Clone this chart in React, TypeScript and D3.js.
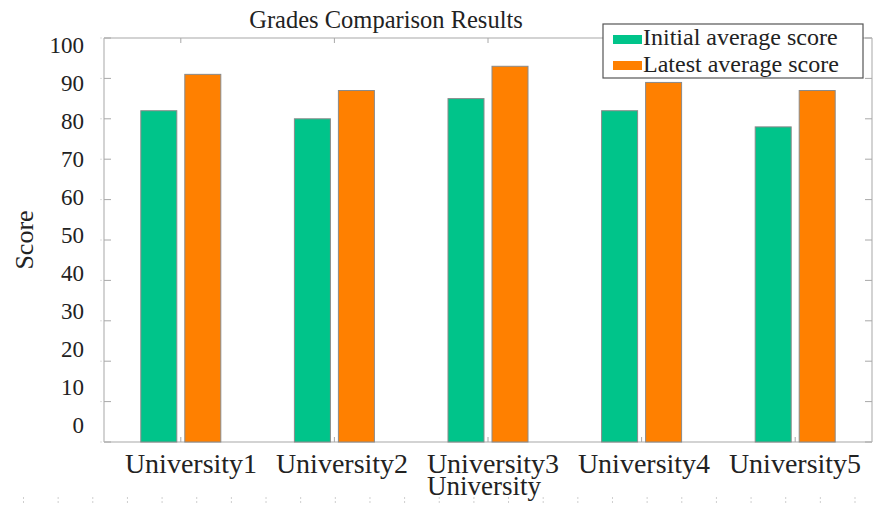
import React from "react";
import * as d3 from "d3";

const categories = ["University1", "University2", "University3", "University4", "University5"];
const initialScores = [82, 80, 85, 82, 78];
const latestScores = [91, 87, 93, 89, 87];
const seriesNames = ["Initial average score", "Latest average score"];
const seriesColors = ["#00C48A", "#FF8000"];
const yTicks = [0, 10, 20, 30, 40, 50, 60, 70, 80, 90, 100];
const bottomMarkCount = 25;

const W = 880;
const H = 505;
const plot = { left: 104, right: 872, top: 38, bottom: 442 };
const FONT = "'Liberation Serif', 'Times New Roman', serif";

export default function App() {
  const x = d3.scaleBand<string>().domain(categories).range([plot.left, plot.right]).paddingInner(0).paddingOuter(0);
  const y = d3.scaleLinear().domain([0, 100]).range([plot.bottom, plot.top]);
  // label placement scales (labels in the reference are slightly offset from the ticks)
  const yLabel = d3.scaleLinear().domain([0, 100]).range([425, 45]);
  const xLabel = d3.scaleLinear().domain([0, categories.length - 1]).range([191, 795]);
  const marks = d3.scaleLinear().domain([0, bottomMarkCount - 1]).range([23.5, 855]);

  const barW = 36;
  const gap = 8;
  const series = [initialScores, latestScores];
  const axisColor = "#c4c4c4";
  const tickColor = "#a8a8a8";

  return (
    <svg width={W} height={H} style={{ position: "absolute", left: 0, top: 0, background: "#fff" }}>
      <rect x={0} y={0} width={W} height={H} fill="#fff" />
      {/* frame */}
      <line x1={plot.left} x2={plot.right} y1={plot.top} y2={plot.top} stroke={axisColor} strokeWidth={1.5} />
      <line x1={plot.left} x2={plot.right} y1={plot.bottom} y2={plot.bottom} stroke={axisColor} strokeWidth={1.5} />
      <line x1={plot.left} x2={plot.left} y1={plot.top} y2={plot.bottom} stroke={axisColor} strokeWidth={1.5} />
      <line x1={plot.right} x2={plot.right} y1={plot.top} y2={plot.bottom} stroke={axisColor} strokeWidth={1.5} />

      {/* y ticks */}
      {yTicks.map((t) => (
        <g key={"yt" + t}>
          <line x1={plot.left} x2={plot.left + 7} y1={y(t)} y2={y(t)} stroke={tickColor} strokeWidth={1} />
          <line x1={plot.left - 4} x2={plot.left - 2} y1={y(t)} y2={y(t)} stroke="#ddd" strokeWidth={1} />
          <line x1={plot.right - 7} x2={plot.right} y1={y(t)} y2={y(t)} stroke={tickColor} strokeWidth={1} />
          <text x={84} y={yLabel(t)} dy="0.34em" textAnchor="end" fontFamily={FONT} fontSize={23} fill="#222">
            {t}
          </text>
        </g>
      ))}

      {/* x ticks */}
      {categories.map((c) => {
        const cx = (x(c) as number) + x.bandwidth() / 2;
        return (
          <g key={"xt" + c}>
            <line x1={cx} x2={cx} y1={plot.bottom} y2={plot.bottom - 5} stroke={tickColor} strokeWidth={1} />
            <line x1={cx} x2={cx} y1={plot.top} y2={plot.top + 5} stroke={tickColor} strokeWidth={1} />
          </g>
        );
      })}

      {/* bars */}
      {categories.map((c, i) => {
        const cx = (x(c) as number) + x.bandwidth() / 2;
        return series.map((s, si) => {
          const bx = si === 0 ? cx - gap / 2 - barW : cx + gap / 2;
          return (
            <rect
              key={c + si}
              x={bx}
              y={y(s[i])}
              width={barW}
              height={y(0) - y(s[i])}
              fill={seriesColors[si]}
              stroke="#8a8a8a"
              strokeWidth={1}
            />
          );
        });
      })}

      {/* x labels */}
      {categories.map((c, i) => (
        <text key={"xl" + c} x={xLabel(i)} y={473} textAnchor="middle" fontFamily={FONT} fontSize={28} fill="#222">
          {c}
        </text>
      ))}

      {/* axis titles */}
      <text x={484} y={495} textAnchor="middle" fontFamily={FONT} fontSize={27} fill="#222">
        University
      </text>
      <text
        transform={`translate(33,240) rotate(-90)`}
        textAnchor="middle"
        fontFamily={FONT}
        fontSize={26}
        fill="#222"
      >
        Score
      </text>

      {/* title */}
      <text x={386} y={28} textAnchor="middle" fontFamily={FONT} fontSize={24.5} fill="#222">
        Grades Comparison Results
      </text>

      {/* legend */}
      <rect x={603} y={24} width={260} height={54} fill="#fff" stroke="#555" strokeWidth={1.2} />
      {seriesNames.map((n, i) => (
        <g key={"lg" + n}>
          <rect x={613} y={35 + i * 26} width={29} height={9} fill={seriesColors[i]} />
          <text x={643} y={45 + i * 27} fontFamily={FONT} fontSize={24} fill="#222">
            {n}
          </text>
        </g>
      ))}

      {/* faint bottom marks */}
      {d3.range(bottomMarkCount).map((k) => (
        <line
          key={"bm" + k}
          x1={marks(k)}
          x2={marks(k)}
          y1={497}
          y2={504}
          stroke="#cfcfcf"
          strokeWidth={1}
          strokeDasharray="2,2"
        />
      ))}
    </svg>
  );
}
